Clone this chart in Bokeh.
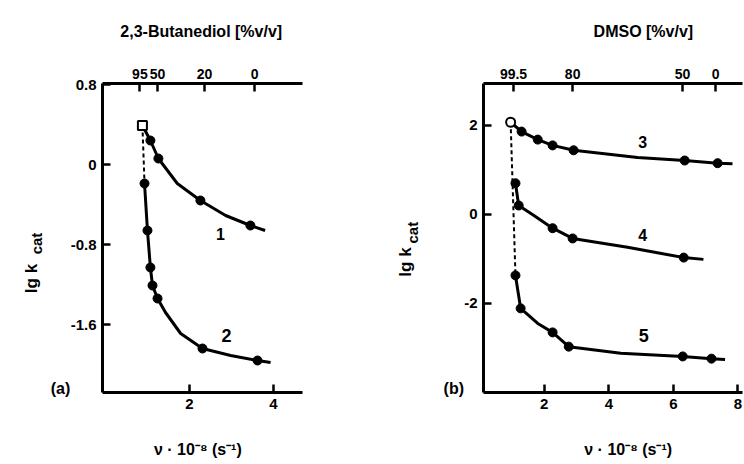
from bokeh.plotting import figure
from bokeh.models import LinearAxis, FixedTicker, Label, Range1d
from bokeh.layouts import row
from bokeh.embed import file_html
from bokeh.resources import INLINE

# ---------------- Panel (a): 2,3-Butanediol ----------------
a_top_ticks = [0.82, 1.24, 2.36, 3.55]
a_top_labels = ["95", "50", "20", "0"]
a_left_ticks = [0.8, 0.0, -0.8, -1.6]
a_left_labels = ["0.8", "0", "-0.8", "-1.6"]
a_bottom_ticks = [2, 4]

a_open_x = [0.88]
a_open_y = [0.39]
# curve 1
a1_x = [1.07, 1.26, 2.26, 3.45]
a1_y = [0.24, 0.06, -0.36, -0.61]
a1_line_x = [0.88, 1.07, 1.26, 1.71, 2.26, 2.86, 3.45, 3.8]
a1_line_y = [0.39, 0.24, 0.06, -0.19, -0.36, -0.51, -0.61, -0.66]
# curve 2
a2_x = [0.93, 1.0, 1.07, 1.12, 1.24, 2.31, 3.62]
a2_y = [-0.19, -0.66, -1.03, -1.21, -1.34, -1.84, -1.96]
a2_line_x = [0.93, 1.0, 1.07, 1.12, 1.24, 1.43, 1.79, 2.31, 2.98, 3.62, 3.93]
a2_line_y = [-0.19, -0.66, -1.03, -1.21, -1.34, -1.48, -1.69, -1.84, -1.91, -1.96, -1.98]
a_dash_x = [0.88, 0.93]
a_dash_y = [0.39, -0.19]

# ---------------- Panel (b): DMSO ----------------
b_top_ticks = [1.05, 2.88, 6.28, 7.31]
b_top_labels = ["99.5", "80", "50", "0"]
b_left_ticks = [2, 0, -2]
b_left_labels = ["2", "0", "-2"]
b_bottom_ticks = [2, 4, 6, 8]

b_open_x = [0.96]
b_open_y = [2.07]
# curve 3
b3_x = [1.3, 1.8, 2.26, 2.91, 6.35, 7.37]
b3_y = [1.86, 1.68, 1.55, 1.44, 1.21, 1.15]
b3_line_x = [0.96, 1.3, 1.8, 2.26, 2.91, 4.89, 6.35, 7.37, 7.83]
b3_line_y = [2.07, 1.86, 1.68, 1.55, 1.44, 1.28, 1.21, 1.15, 1.14]
# curve 4
b4_x = [1.11, 1.21, 2.26, 2.88, 6.32]
b4_y = [0.70, 0.20, -0.31, -0.54, -0.97]
b4_line_x = [1.11, 1.21, 1.67, 2.26, 2.88, 4.58, 6.32, 6.93]
b4_line_y = [0.70, 0.20, -0.02, -0.31, -0.54, -0.74, -0.97, -1.01]
# curve 5
b5_x = [1.11, 1.27, 2.26, 2.76, 6.29, 7.18]
b5_y = [-1.37, -2.11, -2.65, -2.97, -3.19, -3.24]
b5_line_x = [1.11, 1.27, 1.8, 2.26, 2.76, 4.37, 6.29, 7.18, 7.6]
b5_line_y = [-1.37, -2.11, -2.45, -2.65, -2.97, -3.12, -3.19, -3.24, -3.26]
b_dash_x = [0.96, 1.11]
b_dash_y = [2.07, -1.37]

FONT = "Liberation Sans"


def style_axis(ax, size="15px"):
    ax.axis_line_width = 3
    ax.axis_line_color = "black"
    ax.major_tick_line_width = 2.5
    ax.major_tick_in = 8
    ax.major_tick_out = 0
    ax.minor_tick_line_color = None
    ax.major_label_text_font = FONT
    ax.major_label_text_font_style = "bold"
    ax.major_label_text_font_size = size
    ax.major_label_text_color = "black"
    ax.major_label_standoff = 6


def make_panel(width, xr, yr, bl, br, left_t, left_l, bot_t, top_t, top_l):
    p = figure(width=width, height=464, output_backend="svg", toolbar_location=None,
               x_range=Range1d(*xr), y_range=Range1d(*yr),
               min_border_left=bl, min_border_right=br,
               min_border_top=83, min_border_bottom=72)
    p.outline_line_color = None
    p.grid.visible = False
    p.background_fill_color = "white"
    p.border_fill_color = "white"
    p.yaxis.ticker = FixedTicker(ticks=left_t)
    p.yaxis.major_label_overrides = {t: l for t, l in zip(left_t, left_l)}
    p.xaxis.ticker = FixedTicker(ticks=bot_t)
    style_axis(p.xaxis[0])
    style_axis(p.yaxis[0])
    top = LinearAxis(ticker=FixedTicker(ticks=top_t),
                     major_label_overrides={t: l for t, l in zip(top_t, top_l)})
    style_axis(top, size="14px")
    top.major_label_standoff = 5
    p.add_layout(top, "above")
    return p


def lab(p, x, y, text, size="16px", angle=0.0, xo=0, yo=0, side=None):
    l = Label(x=x, y=y, text=text, x_offset=xo, y_offset=yo,
              text_font=FONT, text_font_size=size, text_font_style="bold",
              text_align="center", text_baseline="middle",
              angle=angle, text_color="black")
    if side is None:
        p.add_layout(l)
    else:
        p.add_layout(l, side)


MS = 9
LW = 3

# ---- panel a ----
pa = make_panel(380, (-0.07, 4.69), (-2.28, 0.81), 102, 78,
                a_left_ticks, a_left_labels, a_bottom_ticks, a_top_ticks, a_top_labels)
pa.line(a_dash_x, a_dash_y, line_color="black", line_width=2, line_dash="4 3")
pa.line(a1_line_x, a1_line_y, line_color="black", line_width=LW)
pa.line(a2_line_x, a2_line_y, line_color="black", line_width=LW)
pa.scatter(a1_x, a1_y, marker="circle", size=MS, color="black")
pa.scatter(a2_x, a2_y, marker="circle", size=MS, color="black")
pa.scatter(a_open_x, a_open_y, marker="square", size=9, fill_color="white",
           line_color="black", line_width=2)
lab(pa, 2.74, -0.69, "1")
lab(pa, 2.88, -1.71, "2", size="18px")
lab(pa, -1.07, -2.24, "(a)", side="left")
lab(pa, 2.28, 0.81, "2,3-Butanediol [%v/v]", yo=52, side="above")
lab(pa, 2.2, -2.28, "ν · 10⁻⁸ (s⁻¹)", yo=-57, side="below")
lab(pa, -1.76, -1.14, "lg k", size="17px", angle=1.5708, side="left")
lab(pa, -1.64, -0.79, "cat", size="15px", angle=1.5708, side="left")

# ---- panel b ----
pb = make_panel(364, (0.12, 8.14), (-4.0, 2.94), 103, 2,
                b_left_ticks, b_left_labels, b_bottom_ticks, b_top_ticks, b_top_labels)
pb.line(b_dash_x, b_dash_y, line_color="black", line_width=2, line_dash="4 3")
pb.line(b3_line_x, b3_line_y, line_color="black", line_width=LW)
pb.line(b4_line_x, b4_line_y, line_color="black", line_width=LW)
pb.line(b5_line_x, b5_line_y, line_color="black", line_width=LW)
pb.scatter(b3_x, b3_y, marker="circle", size=MS, color="black")
pb.scatter(b4_x, b4_y, marker="circle", size=MS, color="black")
pb.scatter(b5_x, b5_y, marker="circle", size=MS, color="black")
pb.scatter(b_open_x, b_open_y, marker="circle", size=9, fill_color="white",
           line_color="black", line_width=2)
lab(pb, 5.05, 1.62, "3")
lab(pb, 5.05, -0.47, "4")
lab(pb, 5.08, -2.72, "5", size="18px")
lab(pb, -0.8, -3.91, "(b)", side="left")
lab(pb, 5.07, 2.94, "DMSO [%v/v]", yo=52, side="above")
lab(pb, 4.6, -4.0, "ν · 10⁻⁸ (s⁻¹)", yo=-57, side="below")
lab(pb, -2.3, -1.07, "lg k", size="17px", angle=1.5708, side="left")
lab(pb, -2.08, -0.41, "cat", size="15px", angle=1.5708, side="left")

layout = row(pa, pb)
open("out.html", "w").write(file_html(layout, INLINE))
